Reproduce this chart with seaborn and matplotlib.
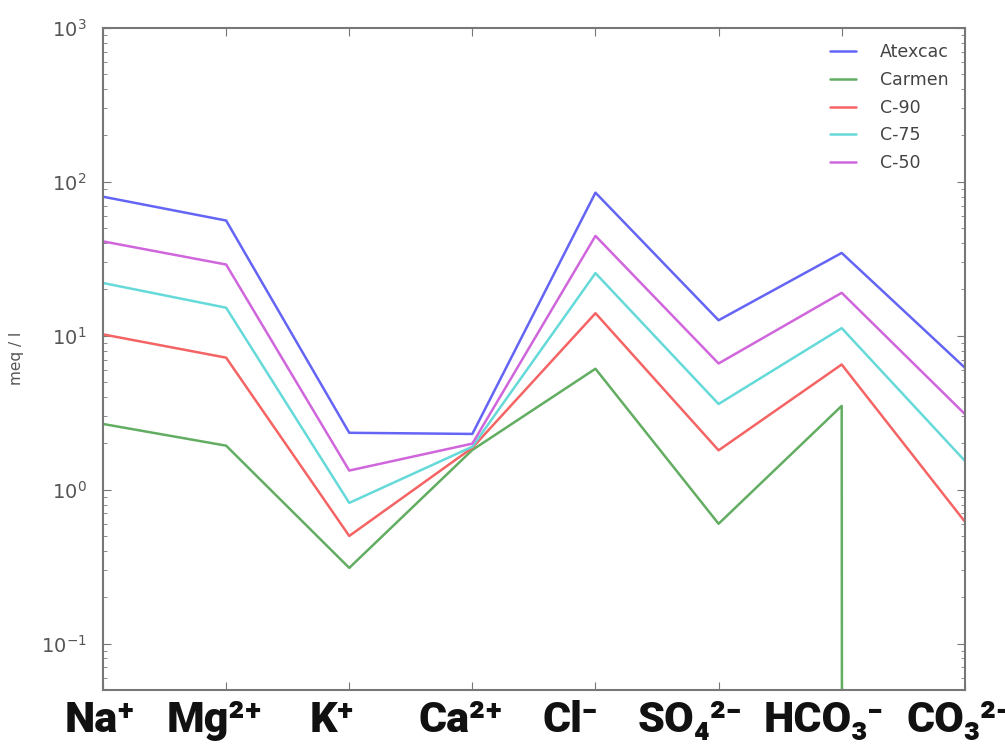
import numpy as np
import pandas as pd
import matplotlib
matplotlib.use("Agg")
import matplotlib.pyplot as plt
import matplotlib.transforms as mtransforms
import seaborn as sns
from matplotlib.ticker import LogLocator, NullFormatter

ions = ["Na⁺", "Mg²⁺", "K⁺", "Ca²⁺", "Cl⁻", "SO₄²⁻", "HCO₃⁻", "CO₃²⁻"]
samples = ["Atexcac", "Carmen", "C-90", "C-75", "C-50"]
atexcac = [80, 56, 2.34, 2.3, 85, 12.6, 34.5, 6.2]
carmen = [2.67, 1.93, 0.31, 1.81, 6.1, 0.60, 3.5, 0.0]
c90 = [10.2, 7.2, 0.50, 1.87, 14.0, 1.80, 6.5, 0.62]
c75 = [22.0, 15.2, 0.82, 1.9, 25.5, 3.6, 11.2, 1.54]
c50 = [41.0, 29.0, 1.33, 1.99, 44.5, 6.6, 19.0, 3.1]
colors = ["#6464f5", "#62ad62", "#f56464", "#66d9d9", "#d066dc"]

# layout: horizontal pixel offsets of the ion labels relative to their ticks
label_shift_px = [-3, -12, -17, -12, -25, -29, -18, -5]

series = [atexcac, carmen, c90, c75, c50]
pos = np.arange(len(ions))
df = pd.DataFrame({
    "pos": np.tile(pos, len(samples)),
    "value": np.concatenate(series),
    "sample": np.repeat(samples, len(ions)),
})

sns.set_style("ticks")

fig = plt.figure(figsize=(10.05, 7.45), dpi=100)
ax = fig.add_axes([0.1025, 0.074, 0.8575, 0.8886])

sns.lineplot(data=df, x="pos", y="value", hue="sample", palette=colors,
             hue_order=samples, sort=False, estimator=None, lw=1.8, ax=ax)
ax.set_yscale("log")
ax.set_ylim(0.05, 1000)
ax.set_xlim(pos[0], pos[-1])
ax.set_xticks(pos)
ax.set_xticklabels([])
ax.set_xlabel("")
base = mtransforms.blended_transform_factory(ax.transData, ax.transAxes)
for p, name, dx in zip(pos, ions, label_shift_px):
    tr = base + mtransforms.ScaledTranslation(dx / 100, -0.10, fig.dpi_scale_trans)
    ax.text(p, 0, name, transform=tr, ha="center", va="top", fontsize=31,
            color="#111111", family=["Roboto", "DejaVu Sans"], fontweight="black",
            clip_on=False)
ax.set_ylabel("meq / l", fontsize=11, color="#555555", labelpad=12)

ax.yaxis.set_major_locator(LogLocator(base=10, numticks=10))
ax.yaxis.set_minor_locator(LogLocator(base=10, subs=np.arange(2, 10), numticks=20))
ax.yaxis.set_minor_formatter(NullFormatter())
ax.tick_params(axis="both", which="both", direction="in", top=True, right=True,
               color="#777777")
ax.tick_params(axis="y", which="major", length=6, labelsize=14, labelcolor="#555555", pad=12)
ax.tick_params(axis="y", which="minor", length=3)
ax.tick_params(axis="x", which="major", length=6)
for s in ax.spines.values():
    s.set_color("#777777")
    s.set_linewidth(1.5)

leg = ax.legend(loc="upper right", frameon=False, fontsize=12.5, handlelength=1.5,
                handletextpad=1.4, labelspacing=0.55, borderaxespad=0.5)
for t in leg.get_texts():
    t.set_color("#444444")

fig.savefig("out.png", dpi=100)
